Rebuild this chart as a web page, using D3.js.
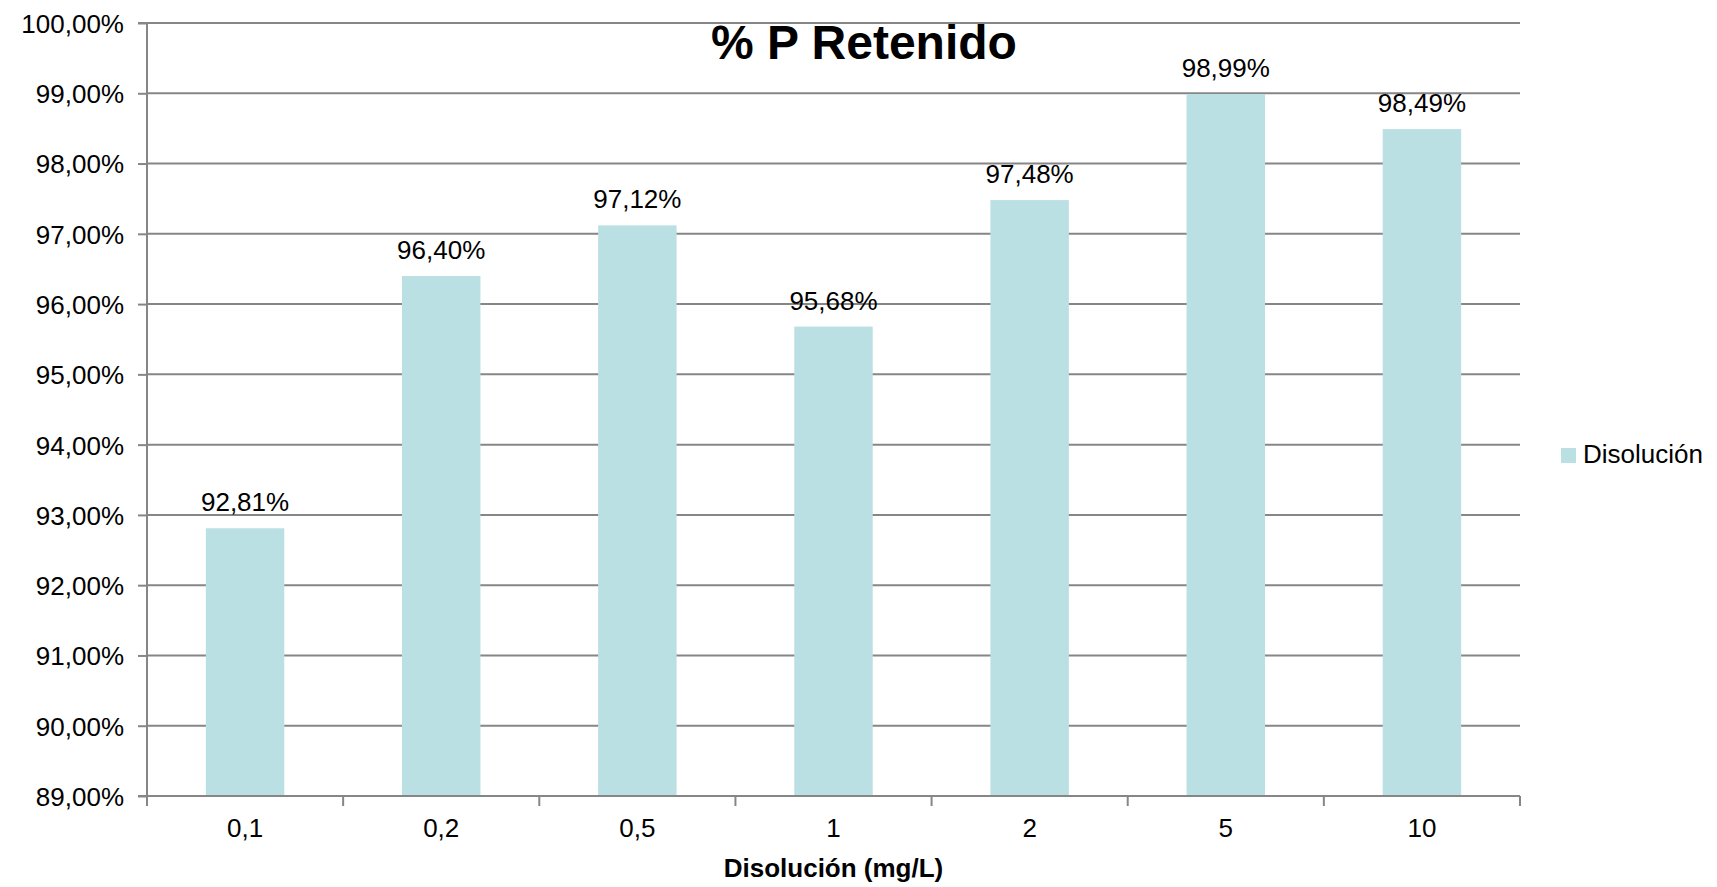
<!DOCTYPE html>
<html>
<head>
<meta charset="utf-8">
<script src="https://cdn.jsdelivr.net/npm/d3@7/dist/d3.min.js"></script>
<style>
  html, body { margin: 0; padding: 0; background: #fff; }
  svg { display: block; font-family: "Liberation Sans", Arial, sans-serif; }
</style>
</head>
<body>
<svg id="chart" width="1717" height="887"></svg>
<script>
const categories = ["0,1", "0,2", "0,5", "1", "2", "5", "10"];
const values = [92.81, 96.40, 97.12, 95.68, 97.48, 98.99, 98.49];
const valueLabels = ["92,81%", "96,40%", "97,12%", "95,68%", "97,48%", "98,99%", "98,49%"];
const yTicks = [89, 90, 91, 92, 93, 94, 95, 96, 97, 98, 99, 100];
const seriesName = "Disolución";
const chartTitle = "% P Retenido";
const xTitle = "Disolución (mg/L)";

(function () {
const svg = d3.select("#chart");
const pL = 147, pR = 1520, pT = 23, pB = 796;
const gridColor = "#868686";
const barColor = "#BAE0E3";

const x = d3.scaleBand().domain(categories).range([pL, pR]).paddingInner(0.6).paddingOuter(0.3);
const y = d3.scaleLinear().domain([89, 100]).range([pB, pT]);
const fmt = v => v.toFixed(2).replace(".", ",") + "%";

// gridlines
svg.append("g").selectAll("line").data(yTicks).join("line")
  .attr("x1", pL).attr("x2", pR)
  .attr("y1", d => y(d)).attr("y2", d => y(d))
  .attr("stroke", gridColor).attr("stroke-width", 2);

// bars
svg.append("g").selectAll("rect").data(values).join("rect")
  .attr("x", (d, i) => x(categories[i]))
  .attr("width", x.bandwidth())
  .attr("y", d => y(d))
  .attr("height", d => pB - y(d))
  .attr("fill", barColor);

// y axis
const yAxis = d3.axisLeft(y).tickValues(yTicks).tickSize(9).tickPadding(14).tickFormat(fmt);
const gy = svg.append("g").attr("transform", `translate(${pL},0)`).call(yAxis);
gy.select(".domain").attr("stroke", gridColor).attr("stroke-width", 2).attr("d", `M-9,${pT}H0V${pB}H-9`);
gy.selectAll(".tick line").attr("stroke", gridColor).attr("stroke-width", 2);
gy.selectAll(".tick text").attr("font-size", 26).attr("fill", "#000")
  .attr("font-family", "'Liberation Sans', Arial, sans-serif").attr("dy", "0.36em").attr("x", -23);

// x axis with boundary ticks
const step = x.step();
const boundaries = d3.range(categories.length + 1).map(i => pL + i * step);
svg.append("line").attr("x1", pL).attr("x2", pR).attr("y1", pB).attr("y2", pB)
  .attr("stroke", gridColor).attr("stroke-width", 2);
svg.append("g").selectAll("line").data(boundaries).join("line")
  .attr("x1", d => d).attr("x2", d => d).attr("y1", pB).attr("y2", pB + 10)
  .attr("stroke", gridColor).attr("stroke-width", 2);
svg.append("g").selectAll("text").data(categories).join("text")
  .attr("x", d => x(d) + x.bandwidth() / 2)
  .attr("y", 837)
  .attr("text-anchor", "middle").attr("font-size", 26).attr("fill", "#000")
  .text(d => d);

// data labels
svg.append("g").selectAll("text").data(values).join("text")
  .attr("x", (d, i) => x(categories[i]) + x.bandwidth() / 2)
  .attr("y", d => y(d) - 17)
  .attr("text-anchor", "middle").attr("font-size", 26).attr("fill", "#000")
  .text((d, i) => valueLabels[i]);

// title
svg.append("text").attr("x", 864).attr("y", 59).attr("text-anchor", "middle")
  .attr("font-size", 48).attr("font-weight", "bold").attr("fill", "#000").text(chartTitle);

// x axis title
svg.append("text").attr("x", (pL + pR) / 2).attr("y", 877).attr("text-anchor", "middle")
  .attr("font-size", 26).attr("font-weight", "bold").attr("fill", "#000").text(xTitle);

// legend
const lg = svg.append("g");
lg.append("rect").attr("x", 1561).attr("y", 448).attr("width", 15).attr("height", 15).attr("fill", barColor);
lg.append("text").attr("x", 1583).attr("y", 463).attr("font-size", 26).attr("fill", "#000").text(seriesName);
})();
</script>
</body>
</html>
